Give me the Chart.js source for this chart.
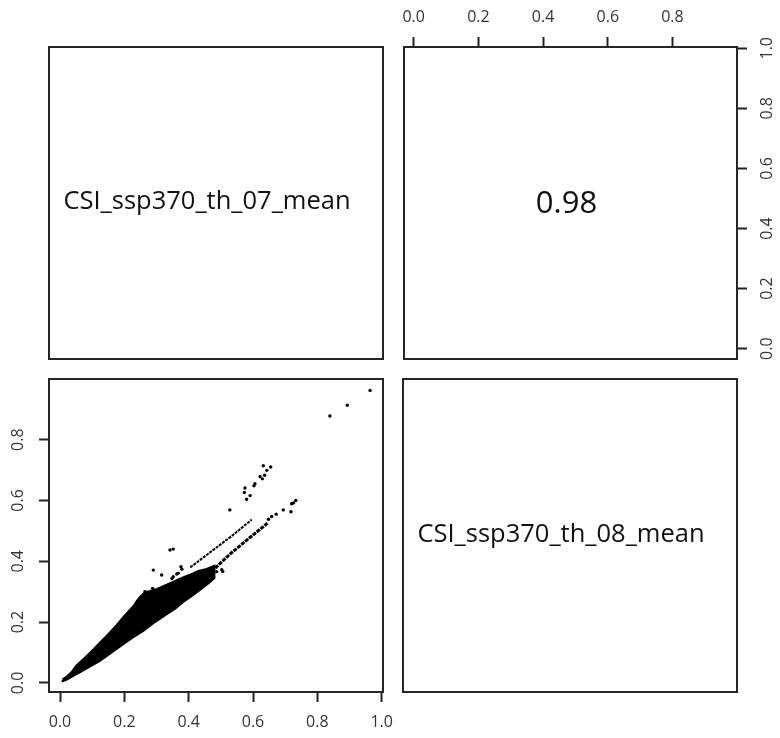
<!DOCTYPE html>
<html>
<head>
<meta charset="utf-8">
<script src="https://cdn.jsdelivr.net/npm/chart.js@4.4.1/dist/chart.umd.min.js"></script>
<style>
  html, body { margin: 0; padding: 0; background: #fff; }
  #wrap { position: relative; width: 780px; height: 738px; }
  #wrap canvas { position: absolute; left: 0; top: 0; }
</style>
</head>
<body>
<div id="wrap">
  <canvas id="tl" width="780" height="738"></canvas>
  <canvas id="tr" width="780" height="738"></canvas>
  <canvas id="bl" width="780" height="738"></canvas>
  <canvas id="br" width="780" height="738"></canvas>
</div>
<script>
// variable names on the diagonal and the correlation shown above it
var varNames = ['CSI_ssp370_th_07_mean', 'CSI_ssp370_th_08_mean'];
var corrLabel = '0.98';

// axis ranges (R pairs extends the data range by 4%)
var var1Range = [-0.0342, 1.0041];
var var2Range = [-0.0300, 0.9995];
var tickValues = [0, 0.2, 0.4, 0.6, 0.8, 1.0];

// dense cloud of points, read as its outline: lower edge left to right, upper edge right to left
var bandLowerX = [0.005, 0.02, 0.04, 0.06, 0.09, 0.124, 0.15, 0.176, 0.20, 0.228, 0.26, 0.29, 0.332, 0.36, 0.383, 0.41, 0.435, 0.46, 0.48];
var bandLowerY = [0.004, 0.010, 0.022, 0.034, 0.052, 0.072, 0.092, 0.112, 0.130, 0.150, 0.172, 0.196, 0.226, 0.246, 0.266, 0.286, 0.306, 0.326, 0.345];
var bandUpperX = [0.48, 0.456, 0.43, 0.414, 0.39, 0.363, 0.33, 0.30, 0.28, 0.265, 0.25, 0.238, 0.228, 0.20, 0.176, 0.15, 0.124, 0.10, 0.075, 0.052, 0.035, 0.02, 0.008];
var bandUpperY = [0.385, 0.375, 0.368, 0.36, 0.35, 0.338, 0.322, 0.308, 0.302, 0.298, 0.284, 0.268, 0.252, 0.220, 0.190, 0.160, 0.132, 0.106, 0.080, 0.058, 0.034, 0.020, 0.012];

// the two thin streaks leaving the cloud
var upperStreakX = [0.405, 0.475, 0.535, 0.596];
var upperStreakY = [0.380, 0.436, 0.484, 0.537];
var lowerStreakX = [0.46, 0.53, 0.59, 0.645];
var lowerStreakY = [0.355, 0.425, 0.478, 0.525];

// single points away from the cloud
var outlierX = [0.964, 0.893, 0.839, 0.632, 0.655, 0.643, 0.622, 0.629, 0.636, 0.606, 0.603, 0.575, 0.573, 0.591, 0.580,
  0.528, 0.733, 0.720, 0.726, 0.694, 0.718, 0.672, 0.658, 0.648,
  0.352, 0.342, 0.290, 0.316, 0.376, 0.379, 0.352, 0.363, 0.368, 0.348, 0.264, 0.288, 0.311, 0.487, 0.503, 0.506];
var outlierY = [0.962, 0.913, 0.878, 0.714, 0.710, 0.699, 0.679, 0.671, 0.683, 0.655, 0.648, 0.641, 0.626, 0.616, 0.604,
  0.569, 0.600, 0.589, 0.592, 0.569, 0.563, 0.555, 0.547, 0.538,
  0.440, 0.437, 0.371, 0.355, 0.382, 0.374, 0.349, 0.358, 0.361, 0.343, 0.300, 0.311, 0.306, 0.366, 0.372, 0.366];

Chart.defaults.font.family = "'Open Sans', 'DejaVu Sans', sans-serif";
Chart.defaults.animation = false;

function pts(xs, ys) {
  return xs.map(function (x, i) { return { x: x, y: ys[i] }; });
}

var frame = {
  id: 'frame',
  afterDatasetsDraw: function (chart) {
    var a = chart.chartArea, ctx = chart.ctx;
    ctx.save();
    ctx.strokeStyle = '#262626';
    ctx.lineWidth = 2;
    ctx.strokeRect(a.left, a.top, a.right - a.left, a.bottom - a.top);
    ctx.restore();
  }
};

var panelText = {
  id: 'panelText',
  afterDraw: function (chart, args, opts) {
    if (!opts.text) return;
    var a = chart.chartArea, ctx = chart.ctx;
    ctx.save();
    ctx.font = opts.font;
    ctx.fillStyle = '#111';
    ctx.textAlign = 'center';
    ctx.textBaseline = 'middle';
    ctx.fillText(opts.text, (a.left + a.right) / 2 + opts.dx, (a.top + a.bottom) / 2 + opts.dy);
    ctx.restore();
  }
};

function axis(pos, range, size, pad, show) {
  var vertical = pos === 'left' || pos === 'right';
  return {
    type: 'linear',
    position: pos,
    display: show,
    min: range[0],
    max: range[1],
    afterBuildTicks: function (s) {
      s.ticks = tickValues.filter(function (v) { return v >= s.min && v <= s.max; })
        .map(function (v) { return { value: v }; });
    },
    afterFit: function (s) {
      if (vertical) s.width = size; else s.height = size;
    },
    grid: { drawOnChartArea: false, drawTicks: true, tickLength: 10, tickColor: '#222', tickWidth: 2 },
    border: { display: false },
    ticks: {
      autoSkip: false,
      padding: pad,
      color: '#333',
      font: { size: 16 },
      minRotation: vertical ? 90 : 0,
      maxRotation: vertical ? 90 : 0,
      crossAlign: vertical ? 'center' : 'near',
      callback: function (v) { return v.toFixed(1); }
    }
  };
}

function makeChart(id, datasets, scales, padding, textOpts) {
  return new Chart(document.getElementById(id), {
    type: 'scatter',
    data: { datasets: datasets },
    options: {
      responsive: false,
      devicePixelRatio: 1,
      layout: { padding: padding },
      scales: scales,
      plugins: {
        legend: { display: false },
        tooltip: { enabled: false },
        panelText: textOpts || {}
      }
    },
    plugins: [frame, panelText]
  });
}

// top left: name of the first variable
makeChart('tl', [],
  { x: axis('bottom', var1Range, 0, 0, false), y: axis('left', var1Range, 0, 0, false) },
  { left: 49, top: 47, right: 397, bottom: 379 },
  { text: varNames[0], font: "25.5px 'Open Sans'", dx: -9, dy: -1 });

// top right: correlation, axes on top and right
makeChart('tr', [],
  { x: axis('top', var2Range, 40, 10, true), y: axis('right', var1Range, 40, 9, true) },
  { left: 404, top: 7, right: 3, bottom: 379 },
  { text: corrLabel, font: "31px 'Open Sans'", dx: -4, dy: 1 });

// bottom left: scatter of var1 (x) against var2 (y)
makeChart('bl', [
    {
      type: 'line',
      data: pts(bandLowerX.concat(bandUpperX), bandLowerY.concat(bandUpperY)),
      fill: 'shape',
      backgroundColor: '#000',
      borderColor: '#000',
      borderWidth: 2,
      pointRadius: 0,
      tension: 0
    },
    {
      type: 'line',
      data: pts(upperStreakX, upperStreakY),
      fill: false,
      borderColor: '#000',
      borderWidth: 2,
      borderDash: [3, 1],
      pointRadius: 0,
      tension: 0
    },
    {
      type: 'line',
      data: pts(lowerStreakX, lowerStreakY),
      fill: false,
      borderColor: '#000',
      borderWidth: 3,
      borderDash: [4, 1],
      pointRadius: 0,
      tension: 0
    },
    {
      data: pts(outlierX, outlierY),
      pointRadius: 1.7,
      pointBackgroundColor: '#000',
      pointBorderWidth: 0
    }
  ],
  { x: axis('bottom', var1Range, 40, 11, true), y: axis('left', var2Range, 40, 9, true) },
  { left: 9, top: 379, right: 397, bottom: 6 });

// bottom right: name of the second variable
makeChart('br', [],
  { x: axis('bottom', var2Range, 0, 0, false), y: axis('left', var2Range, 0, 0, false) },
  { left: 403, top: 379, right: 43, bottom: 46 },
  { text: varNames[1], font: "25.5px 'Open Sans'", dx: -9, dy: -1 });
</script>
</body>
</html>
